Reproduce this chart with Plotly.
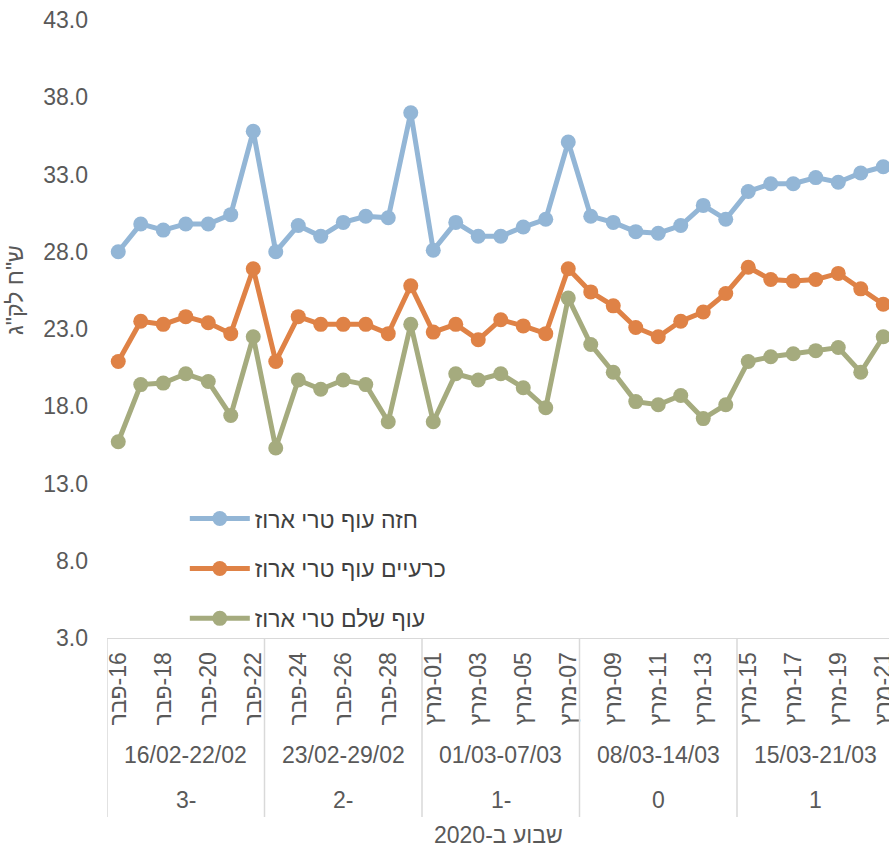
import plotly.graph_objects as go

RLM = "\u200F"
dates = ["16-פבר", "17-פבר", "18-פבר", "19-פבר", "20-פבר", "21-פבר", "22-פבר",
         "23-פבר", "24-פבר", "25-פבר", "26-פבר", "27-פבר", "28-פבר", "29-פבר",
         "01-מרץ", "02-מרץ", "03-מרץ", "04-מרץ", "05-מרץ", "06-מרץ", "07-מרץ",
         "08-מרץ", "09-מרץ", "10-מרץ", "11-מרץ", "12-מרץ", "13-מרץ", "14-מרץ",
         "15-מרץ", "16-מרץ", "17-מרץ", "18-מרץ", "19-מרץ", "20-מרץ", "21-מרץ"]

weeks = ["16/02-22/02", "23/02-29/02", "01/03-07/03", "08/03-14/03", "15/03-21/03"]
week_offsets = ["3-", "2-", "1-", "0", "1"]
days_per_week = 7

breast = [28.0, 29.8, 29.4, 29.8, 29.8, 30.4, 35.8,
          28.0, 29.7, 29.0, 29.9, 30.3, 30.2, 37.0,
          28.1, 29.9, 29.0, 29.0, 29.6, 30.1, 35.1,
          30.3, 29.9, 29.3, 29.2, 29.7, 31.0, 30.1,
          31.9, 32.4, 32.4, 32.8, 32.5, 33.1, 33.5]
legs = [20.9, 23.5, 23.3, 23.8, 23.4, 22.7, 26.9,
        20.9, 23.8, 23.3, 23.3, 23.3, 22.7, 25.8,
        22.8, 23.3, 22.3, 23.6, 23.2, 22.7, 26.9,
        25.4, 24.5, 23.1, 22.5, 23.5, 24.1, 25.3,
        27.0, 26.2, 26.1, 26.2, 26.6, 25.6, 24.6]
whole = [15.7, 19.4, 19.5, 20.1, 19.6, 17.4, 22.5,
         15.3, 19.7, 19.1, 19.7, 19.4, 17.0, 23.3,
         17.0, 20.1, 19.7, 20.1, 19.2, 17.9, 25.0,
         22.0, 20.2, 18.3, 18.1, 18.7, 17.2, 18.1,
         20.9, 21.2, 21.4, 21.6, 21.8, 20.2, 22.5]

series_names = ["חזה עוף טרי ארוז", "כרעיים עוף טרי ארוז", "עוף שלם טרי ארוז"]
series_values = [breast, legs, whole]
colors = ["#93B6D6", "#DF8246", "#A5AB7E"]

y_title = 'ש"ח לק"ג'
x_title = "שבוע ב-2020"

FONT = "Liberation Sans, Arial, sans-serif"
GRAY = "#595959"
FS = 23

fig = go.Figure()
xs = list(range(len(dates)))
for name, vals, col in zip(series_names, series_values, colors):
    fig.add_trace(go.Scatter(
        x=xs, y=vals, name=name, mode="lines+markers",
        line=dict(color=col, width=5),
        marker=dict(color=col, size=15),
        legendgroup=name,
    ))

W, H = 889, 850
ml, mt, mb = 107, 20, 212
plot_w = W - ml
cat_w = 22.5
x_max = -0.5 + plot_w / cat_w

fig.update_layout(
    width=W, height=H,
    margin=dict(l=ml, r=0, t=mt, b=mb, autoexpand=False),
    paper_bgcolor="white", plot_bgcolor="white",
    font=dict(family=FONT, color=GRAY, size=FS),
    showlegend=True,
    legend=dict(
        x=0.0995, y=0.228, xanchor="left", yanchor="top",
        bgcolor="rgba(0,0,0,0)", font=dict(size=FS, color="#404040"),
        traceorder="grouped", tracegroupgap=17, itemwidth=60,
    ),
    xaxis=dict(
        range=[-0.5, x_max], showgrid=False, zeroline=False, automargin=False,
        tickmode="array", tickvals=xs[::2], ticktext=[RLM + d for d in dates[::2]],
        tickangle=-90, ticks="", showline=True, linecolor="#D9D9D9", linewidth=1,
        tickfont=dict(size=FS, color=GRAY), ticklabelstandoff=4,
        ticklabeloverflow="allow",
    ),
    yaxis=dict(
        range=[3, 43], dtick=5, tick0=3, tickformat=".1f", showgrid=False,
        zeroline=False, showline=False, ticks="", automargin=False,
        tickfont=dict(size=FS, color=GRAY), ticklabelstandoff=18,
    ),
)

plot_h = H - mt - mb
def py(pix):
    return (H - mb - pix) / plot_h

for i, (wk, off) in enumerate(zip(weeks, week_offsets)):
    start = i * days_per_week - 0.5
    end = start + days_per_week
    center = (start + end) / 2
    fig.add_annotation(x=center, y=py(755), xref="x", yref="paper", text=wk,
                       showarrow=False, font=dict(size=FS, color=GRAY),
                       xanchor="center", yanchor="middle")
    fig.add_annotation(x=center, y=py(800), xref="x", yref="paper", text=off,
                       showarrow=False, font=dict(size=FS, color=GRAY),
                       xanchor="center", yanchor="middle")
for i in range(len(weeks) + 1):
    bx = i * days_per_week - 0.5
    fig.add_shape(type="line", xref="x", yref="paper", x0=bx, x1=bx,
                  y0=0, y1=py(817), line=dict(color="#D9D9D9", width=1.5))

fig.add_annotation(x=(15 - ml) / plot_w, y=py(290), xref="paper", yref="paper",
                   text=y_title, textangle=-90, showarrow=False,
                   xanchor="center", yanchor="middle",
                   font=dict(size=FS, color=GRAY))
fig.add_annotation(x=0.5, y=py(835), xref="paper", yref="paper",
                   text=x_title, showarrow=False, xanchor="center", yanchor="middle",
                   font=dict(size=FS, color=GRAY))

fig.write_html("out.html", config={"displayModeBar": False},
               post_script="document.body.style.margin='0';document.body.style.overflow='hidden';")
